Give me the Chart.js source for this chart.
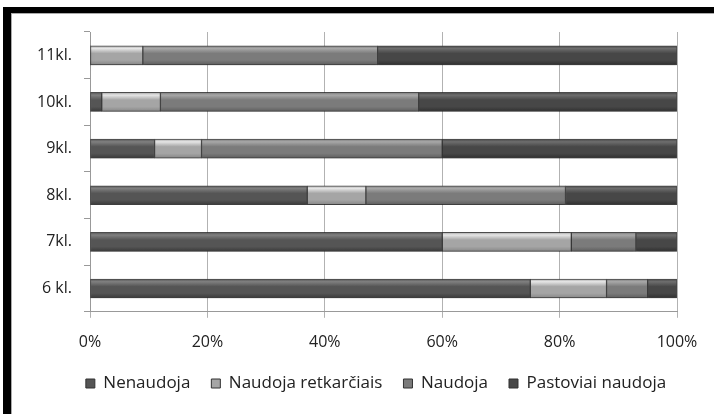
<!DOCTYPE html>
<html>
<head>
<meta charset="utf-8">
<script src="https://cdn.jsdelivr.net/npm/chart.js@4.4.1/dist/chart.umd.min.js"></script>
<style>
  html, body { margin: 0; padding: 0; background: #fff; }
  #wrap { position: relative; width: 714px; height: 414px; overflow: hidden; }
  /* black frame, cut off on the right and bottom */
  #frame {
    position: absolute; left: 3px; top: 7px; right: -20px; bottom: -20px;
    border-top: 6px solid #000; border-left: 8px solid #000;
    pointer-events: none;
  }
  #frame::after {
    content: ""; position: absolute; left: 0; top: 0; right: 0; bottom: 0;
    border-top: 1px solid #aaa; border-left: 1px solid #aaa;
  }
</style>
</head>
<body>
<div id="wrap">
  <canvas id="chart" width="714" height="414"></canvas>
  <div id="frame"></div>
</div>
<script>
const classes = ['11kl.', '10kl.', '9kl.', '8kl.', '7kl.', '6 kl.'];
const seriesNames = ['Nenaudoja', 'Naudoja retkarčiais', 'Naudoja', 'Pastoviai naudoja'];
const nenaudoja   = [0, 2, 11, 37, 60, 75];
const retkarciais = [9, 10, 8, 10, 22, 13];
const naudoja     = [40, 44, 41, 34, 11, 7];
const pastoviai   = [51, 44, 40, 19, 7, 5];
const percentTicks = [0, 20, 40, 60, 80, 100];

const seriesValues = [nenaudoja, retkarciais, naudoja, pastoviai];

// bevel shades for each series: highlight, body, shadow
const shades = [
  ['#808080', '#555555', '#3a3a3a'],
  ['#e6e6e6', '#a5a5a5', '#878787'],
  ['#a8a8a8', '#7b7b7b', '#5e5e5e'],
  ['#6e6e6e', '#474747', '#303030'],
];
const BAR = 19;
const font = { family: '"Open Sans", sans-serif', size: 16 };
const legendFont = { family: '"Open Sans", sans-serif', size: 17 };

function barFill(i) {
  return (ctx) => {
    const chart = ctx.chart;
    const y = chart.scales && chart.scales.y;
    if (!y || ctx.type !== 'data') return shades[i][1];
    const c = y.getPixelForValue(ctx.dataIndex);
    if (!Number.isFinite(c)) return shades[i][1];
    const g = chart.ctx.createLinearGradient(0, c - BAR / 2, 0, c + BAR / 2);
    g.addColorStop(0, shades[i][1]);
    g.addColorStop(0.14, shades[i][0]);
    g.addColorStop(0.4, shades[i][1]);
    g.addColorStop(0.75, shades[i][1]);
    g.addColorStop(1, shades[i][2]);
    return g;
  };
}

// soft drop shadow under the bars
const barShadow = {
  id: 'barShadow',
  beforeDatasetsDraw(chart) {
    const c = chart.ctx;
    c.save();
    c.shadowColor = 'rgba(0,0,0,0.22)';
    c.shadowBlur = 4;
    c.shadowOffsetY = 3;
  },
  afterDatasetsDraw(chart) {
    chart.ctx.restore();
  }
};

new Chart(document.getElementById('chart'), {
  type: 'bar',
  data: {
    labels: classes,
    datasets: seriesNames.map((name, i) => ({
      label: name,
      data: seriesValues[i],
      backgroundColor: barFill(i),
      borderColor: 'rgba(45,45,45,0.85)',
      borderWidth: (ctx) => (ctx.raw ? 1 : 0),
      borderSkipped: false,
      barThickness: BAR,
    })),
  },
  options: {
    indexAxis: 'y',
    responsive: false,
    animation: false,
    // negative right padding pushes the legend centre to the right
    layout: { padding: { top: 32, left: 14, right: -24, bottom: 12 } },
    scales: {
      x: {
        stacked: true,
        min: 0,
        max: 100,
        afterBuildTicks: (s) => { s.ticks = percentTicks.map(v => ({ value: v })); },
        ticks: { callback: (v) => v + '%', color: '#222', font, padding: 15 },
        grid: { color: '#b2b2b2', tickLength: 6 },
        border: { color: '#999' },
        afterFit: (s) => { s.height -= 13; },
      },
      y: {
        stacked: true,
        ticks: { color: '#222', font, padding: 12 },
        grid: { offset: true, drawOnChartArea: false, tickLength: 6, color: '#999' },
        border: { color: '#999' },
        afterFit: (s) => { s.width = 76; },
      },
      yRight: {
        type: 'category',
        position: 'right',
        ticks: { display: false },
        grid: { display: false },
        border: { display: false },
        afterFit: (s) => { s.width = 61; },
      },
    },
    plugins: {
      tooltip: { enabled: false },
      legend: {
        position: 'bottom',
        labels: {
          boxWidth: 9,
          boxHeight: 9,
          padding: 21,
          color: '#222',
          font: legendFont,
          generateLabels: (chart) =>
            Chart.defaults.plugins.legend.labels.generateLabels(chart).map((l, i) => ({
              ...l, fillStyle: shades[i][1], strokeStyle: '#333', lineWidth: 1,
            })),
        },
      },
    },
  },
  plugins: [barShadow],
});
</script>
</body>
</html>
